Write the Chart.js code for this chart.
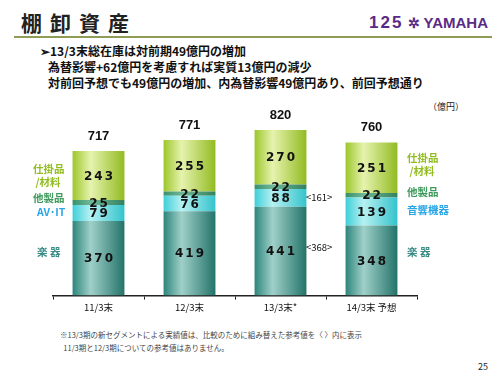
<!DOCTYPE html>
<html>
<head>
<meta charset="utf-8">
<script src="https://cdn.jsdelivr.net/npm/chart.js@4/dist/chart.umd.min.js"></script>
<style>
  html, body { margin: 0; padding: 0; background: #fff; }
  body { width: 500px; height: 375px; position: relative; overflow: hidden; font-family: "Noto Sans CJK JP", "Noto Sans", sans-serif; }
  .abs { position: absolute; white-space: nowrap; }
  #title { left: 21px; top: 7px; font-size: 21px; font-weight: bold; color: #222; letter-spacing: 8px; }
  #rule { left: 14px; top: 36px; width: 478px; height: 2px; background: #8f9c55; }
  #logo { right: 12px; top: 13px; font-size: 15px; font-weight: bold; color: #5b2a86; font-family: "Liberation Sans Narrow", "Liberation Sans", sans-serif; }
  .msg { left: 40px; font-size: 12px; font-weight: bold; color: #111; }
  .lab { font-size: 10.5px; font-weight: bold; line-height: 13px; }
  #foot { left: 60px; top: 328px; font-size: 7.5px; color: #444; line-height: 13px; }
  #wrap { position: absolute; left: 0; top: 90px; width: 500px; height: 225px; }
</style>
</head>
<body>
<div class="abs" id="title">棚卸資産</div>
<div class="abs" id="rule"></div>
<div class="abs" id="logo"><span style="letter-spacing:2px; font-size:17px">125</span> <span style="font-size:14px">✲</span> YAMAHA</div>
<div class="abs msg" style="top:42px">➢13/3末総在庫は対前期49億円の増加</div>
<div class="abs msg" style="top:58px; left:48px">為替影響+62億円を考慮すれば実質13億円の減少</div>
<div class="abs msg" style="top:74px; left:48px">対前回予想でも49億円の増加、内為替影響49億円あり、前回予想通り</div>
<div class="abs" style="left:428px; top:100px; font-size:9px; color:#222;">（億円）</div>

<div id="wrap"><canvas id="inv"></canvas></div>

<div class="abs lab" style="left:33px; top:162px; color:#93bd22;">仕掛品<br>&nbsp;/材料</div>
<div class="abs lab" style="left:33px; top:191px; color:#3d9a5a;">他製品</div>
<div class="abs lab" style="left:37px; top:205px; color:#2aa6e6;">AV･IT</div>
<div class="abs lab" style="left:37px; top:245px; color:#3a8c86;">楽 器</div>

<div class="abs lab" style="left:407px; top:151px; color:#93bd22;">仕掛品<br>&nbsp;/材料</div>
<div class="abs lab" style="left:407px; top:185px; color:#3d9a5a;">他製品</div>
<div class="abs lab" style="left:407px; top:203px; color:#2aa6e6;">音響機器</div>
<div class="abs lab" style="left:407px; top:245px; color:#3a8c86;">楽 器</div>

<div class="abs" style="left:306px; top:190px; font-size:9.5px; color:#111;">&lt;161&gt;</div>
<div class="abs" style="left:306px; top:240px; font-size:9.5px; color:#111;">&lt;368&gt;</div>

<div class="abs" id="foot">※13/3期の新セグメントによる実績値は、比較のために組み替えた参考値を〈 〉内に表示<br>&nbsp;&nbsp;11/3期と12/3期についての参考値はありません。</div>
<div class="abs" style="left:478px; top:360px; font-size:9px; color:#222;">25</div>

<script>
var periods = ['11/3末', '12/3末', '13/3末*', '14/3末 予想'];
var instruments = [370, 419, 441, 348];   // 楽器
var avit = [79, 76, 88, 139];             // AV・IT / 音響機器
var others = [25, 22, 22, 22];            // 他製品
var materials = [243, 255, 270, 251];     // 仕掛品/材料
var totals = [717, 771, 820, 760];

function barGradient(stops) {
  return function (ctx) {
    var chart = ctx.chart;
    if (!chart.chartArea || !chart.scales.x) return stops[1];
    var x = chart.scales.x.getPixelForValue(ctx.dataIndex);
    var half = 26;
    var g = chart.ctx.createLinearGradient(x - half, 0, x + half, 0);
    g.addColorStop(0, stops[0]);
    g.addColorStop(0.35, stops[1]);
    g.addColorStop(1, stops[2]);
    return g;
  };
}

// segment values + totals
var valueLabels = {
  id: 'valueLabels',
  afterDatasetsDraw: function (chart) {
    var c = chart.ctx;
    c.save();
    c.textAlign = 'center';
    c.textBaseline = 'middle';
    c.fillStyle = '#111';
    chart.data.datasets.forEach(function (ds, di) {
      var meta = chart.getDatasetMeta(di);
      meta.data.forEach(function (bar, i) {
        var yMid = (bar.y + bar.base) / 2;
        c.font = 'bold 12px "DejaVu Sans", sans-serif';
        if ('letterSpacing' in c) c.letterSpacing = '2px';
        c.fillText(String(ds.data[i]), bar.x + 1, yMid + 1);
      });
    });
    var top = chart.getDatasetMeta(chart.data.datasets.length - 1);
    if ('letterSpacing' in c) c.letterSpacing = '0px';
    c.font = 'bold 13px "Liberation Sans", sans-serif';
    top.data.forEach(function (bar, i) {
      c.fillText(String(totals[i]), bar.x, bar.y - 15);
    });
    c.restore();
  }
};

new Chart(document.getElementById('inv').getContext('2d'), {
  type: 'bar',
  data: {
    labels: periods,
    datasets: [
      { label: '楽器', data: instruments, backgroundColor: barGradient(['#2c857b', '#9fd0c9', '#237369']) },
      { label: 'AV・IT', data: avit, backgroundColor: barGradient(['#3fcfd8', '#b6f1f2', '#34c3cc']) },
      { label: '他製品', data: others, backgroundColor: barGradient(['#3a8f6c', '#6fb898', '#33815f']) },
      { label: '仕掛品/材料', data: materials, backgroundColor: barGradient(['#9cc62a', '#e6f3ae', '#92bb22']) }
    ]
  },
  options: {
    responsive: true, maintainAspectRatio: false, animation: false,
    layout: { padding: { left: 53, right: 83, top: 0, bottom: 0 } },
    plugins: { legend: { display: false }, tooltip: { enabled: false } },
    datasets: { bar: { barPercentage: 0.57, categoryPercentage: 1, borderWidth: 0 } },
    scales: {
      x: {
        stacked: true,
        border: { display: true, color: '#222', width: 1.5 },
        grid: { drawOnChartArea: false, drawTicks: true, tickLength: 4, color: '#222' },
        ticks: { color: '#111', padding: 2, font: { family: '"Noto Sans CJK JP", sans-serif', size: 9.5 } }
      },
      y: { stacked: true, display: false, min: 0, max: 1020 }
    }
  },
  plugins: [valueLabels]
});
</script>
</body>
</html>
